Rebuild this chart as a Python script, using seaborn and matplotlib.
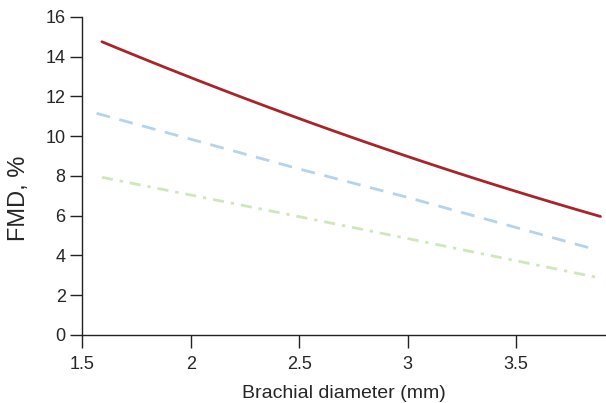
import numpy as np
import pandas as pd
import matplotlib
matplotlib.use("Agg")
import matplotlib.pyplot as plt
import seaborn as sns

# values
red_x = [1.59, 2.0, 2.5, 3.0, 3.5, 3.89]
red_y = [14.75, 12.95, 10.9, 8.95, 7.25, 5.95]
blue_x = [1.565, 2.5, 3.0, 3.875]
blue_y = [11.15, 8.35, 6.92, 4.27]
green_x = [1.59, 2.5, 3.0, 3.89]
green_y = [7.93, 5.95, 4.85, 2.86]

x_ticks = [1.5, 2, 2.5, 3, 3.5]
x_labels = ["1.5", "2", "2.5", "3", "3.5"]
y_ticks = [0, 2, 4, 6, 8, 10, 12, 14, 16]

df = pd.concat([
    pd.DataFrame({"x": red_x, "y": red_y, "group": "red"}),
    pd.DataFrame({"x": blue_x, "y": blue_y, "group": "blue"}),
    pd.DataFrame({"x": green_x, "y": green_y, "group": "green"}),
])

sns.set_style("ticks")
plt.rcParams["font.family"] = ["Liberation Sans", "DejaVu Sans"]

fig = plt.figure(figsize=(6.06, 4.03), dpi=100)
ax = fig.add_axes([0.136, 0.169, 0.862, 0.789])

palette = {"red": "#a8232a", "blue": "#b5d3ea", "green": "#cfe7bb"}
dashes = {"red": "", "blue": (5, 3.5), "green": (4, 2.5, 1.2, 2.5)}

for g in ["green", "blue", "red"]:
    sub = df[df["group"] == g]
    # red is a gentle curve: quadratic fit through the read points
    if g == "red":
        coef = np.polyfit(sub["x"], sub["y"], 2)
        xs = np.linspace(sub["x"].min(), sub["x"].max(), 100)
        sub = pd.DataFrame({"x": xs, "y": np.polyval(coef, xs)})
    sns.lineplot(data=sub, x="x", y="y", ax=ax, color=palette[g],
                 lw=2.0, legend=False)
    if dashes[g]:
        ax.lines[-1].set_dashes(dashes[g])

ax.set_xlim(1.5, 3.91)
ax.set_ylim(0, 16)
ax.set_xticks(x_ticks)
ax.set_xticklabels(x_labels)
ax.set_yticks(y_ticks)
ax.tick_params(labelsize=13, length=9, width=1, color="#222222")
ax.tick_params(axis="x", pad=6)
ax.tick_params(axis="y", pad=3)
ax.set_xlabel("Brachial diameter (mm)", fontsize=14, labelpad=9)
ax.set_ylabel("FMD, %", fontsize=17, labelpad=11)
ax.yaxis.label.set_y(0.43)
sns.despine(ax=ax)
for s in ["left", "bottom"]:
    ax.spines[s].set_linewidth(1)
    ax.spines[s].set_color("#222222")

fig.savefig("out.png", dpi=100)
